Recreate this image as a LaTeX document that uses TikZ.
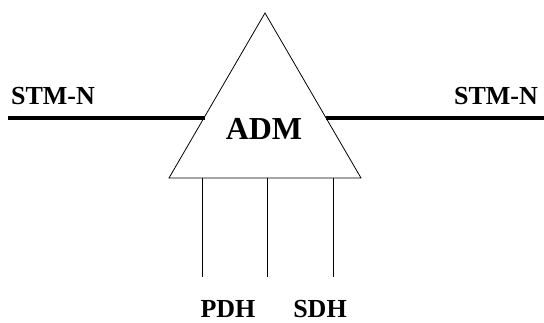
\documentclass[tikz,border=0pt]{standalone}
\usepackage{fontspec}
\setmainfont{Liberation Serif}
\usetikzlibrary{positioning}
\begin{document}
\begin{tikzpicture}[x=1pt,y=-1pt,
    lbl/.style={font=\bfseries\fontsize{26}{26}\selectfont, inner sep=0pt},
    trunk/.style={line width=4pt},
    trib/.style={line width=0.8pt}]
            \useasboundingbox (0,0) rectangle (544,322);
            \coordinate (top) at (265,13);
            \coordinate (bl) at (169,178);
            \coordinate (br) at (361,178);
            \coordinate (wl) at (204.5,118);
            \coordinate (wr) at (325.5,118);
            \coordinate (el) at (8,118);
            \coordinate (er) at (544,118);

            % Draw ADM
            \draw[trib] (top) -- (bl) -- (br) -- cycle;
            \node[lbl, font=\bfseries\fontsize{32}{32}\selectfont] (adm) at (264,129) {ADM};

            % Draw STM-N line
            \node[lbl] (stml) at (53,96) {STM-N};
            \node[lbl] (stmr) at (496,96) {STM-N};
            \draw[trunk] (el) -- (wl);
            \draw[trunk] (wr) -- (er);

            % Draw tributaries
            \coordinate (t1) at (202,178);
            \coordinate (t2) at (267,178);
            \coordinate (t3) at (333,178);
            \coordinate (b1) at (202,277);
            \coordinate (b2) at (267,277);
            \coordinate (b3) at (333,277);
            \draw[trib] (t1) -- (b1);
            \draw[trib] (t2) -- (b2);
            \draw[trib] (t3) -- (b3);
            \node[lbl] (pdh) at (228,309) {PDH};
            \node[lbl] (sdh) at (320,309) {SDH};
        \end{tikzpicture}
\end{document}
